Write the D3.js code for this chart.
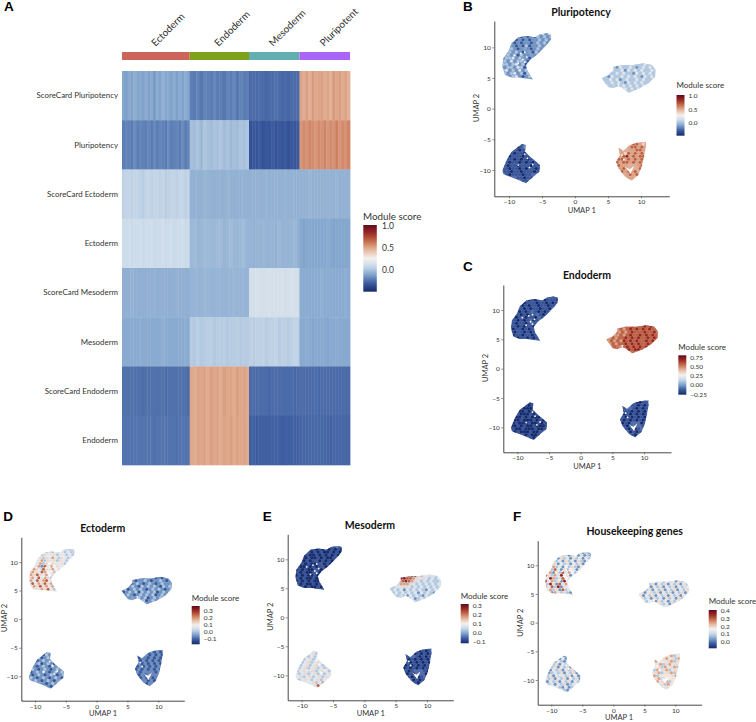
<!DOCTYPE html>
<html><head><meta charset="utf-8">
<script src="https://cdn.jsdelivr.net/npm/d3@7"></script>
<style>html,body{margin:0;padding:0;background:#fff}svg{display:block}text{font-family:Lato,"Noto Sans",sans-serif;fill:#333}</style>
</head><body><svg id="c" width="756" height="722"></svg>
<script>
// ---------- heatmap data ----------
const heatRows = ["ScoreCard Pluripotency","Pluripotency","ScoreCard Ectoderm","Ectoderm","ScoreCard Mesoderm","Mesoderm","ScoreCard Endoderm","Endoderm"];
const heatGroups = ["Ectoderm","Endoderm","Mesoderm","Pluripotent"];
const heatGroupShare = [67.7,59.3,50.5,50.5];
const heatGroupColors = ["#cd6459","#7da11a","#62aeb0","#a963f5"];
const heatValues = [
  [-0.097,-0.203,-0.256,0.50],
  [-0.196,-0.022,-0.309,0.567],
  [0.05,-0.06,-0.06,-0.06],
  [0.085,-0.037,-0.052,-0.097],
  [-0.067,-0.052,0.115,-0.082],
  [-0.082,0.02,0.035,-0.09],
  [-0.241,0.50,-0.256,-0.256],
  [-0.233,0.50,-0.286,-0.271]];
// streaks read across each heatmap cell, 5 = the cell's mean, one step = heatStreakStep
const heatStreakStep = 0.011;
const heatStreaks = [
 ["536475647362748564736475","546365474536473645","5556545565454555","64738567463857463"],
 ["465374654637465374563746","657486576857465768","3546354635463546","36475364736483647"],
 ["566566546656656456656656","555565555556555555","5555565555565555","55565555555565555"],
 ["667566756675667567566756","564565556645655564","5455655546555564","54555555565455555"],
 ["555655555556555555565555","555565555555565555","6576567656756765","55555556555555565"],
 ["555555655555556555555565","657566756675667566","6566756675665676","55654555545565555"],
 ["555555545555555455555554","546564756475647564","5555554555555545","55555545555555555"],
 ["555455555554555555545555","546564756465746564","5545555555455555","55555555554555555"]];
// ---------- UMAP data: cluster outlines read in UMAP 1 / UMAP 2 units ----------
const outlineA = [[-3.63,12.13],[-3.63,11.3],[-4.29,10.39],[-5.05,9.57],[-5.8,8.76],[-6.81,7.94],[-7.42,7.13],[-7.22,6.2],[-6.9,5.66],[-6.41,4.79],[-7.57,4.9],[-8.58,5.11],[-9.59,5.06],[-10.6,5.5],[-11,6.85],[-10.85,8.2],[-10.1,9.3],[-9.59,10.66],[-8.58,11.64],[-7.32,11.86],[-6.05,11.64],[-5.3,12.13],[-4.29,12.29]];
const outlineB = [[4.04,4.95],[5.05,5.5],[5.81,6.31],[5.81,6.85],[7.08,7.13],[8.84,7.13],[10.36,7.4],[11.62,7.13],[12.23,6.31],[12.13,5.22],[11.12,4.14],[9.85,3.32],[8.09,2.61],[7.08,3.48],[6.57,3.7],[5.81,3.32],[5.05,3.48],[4.55,4.24]];
const outlineC = [[-8.08,-5.76],[-7.47,-5.92],[-7.57,-7.01],[-6.81,-7.83],[-5.3,-9.19],[-5.4,-10.27],[-6.31,-11.09],[-7.42,-12.18],[-8.58,-11.63],[-10.85,-10.66],[-11,-10.11],[-10.35,-8.37],[-9.59,-7.01],[-8.58,-6.2]];
const outlineD = [[6.57,-6.36],[7.33,-6.85],[8.34,-5.92],[9.35,-5.54],[10.71,-5.38],[10.71,-6.2],[10.46,-7.83],[10.1,-9.46],[9.6,-10.82],[8.59,-11.74],[7.58,-11.09],[6.57,-9.73],[6.22,-8.64],[6.82,-7.55]];
const heartGap = [[7.58,-9.46],[8.33,-9.89],[8.94,-9.35],[8.43,-10.67]];
const clusterOutlines = [outlineA,outlineB,outlineC,outlineD];
const clusterHoles = [null,null,null,heartGap];
// white specks (empty spots between cells) seen in every panel
const emptySpotX = [-8.2,-7.6,-7.3,-7.9,-8.6,-9.2,-7.6,-7.2,-6.4,-6.9,-7.6,-8.6,7.1,7.4,6.6,-6.6];
const emptySpotY = [9,9.2,8.4,8,7.4,8.7,7.6,-8.1,-9.1,-9.6,-7.4,-9.2,-7.6,-8.3,3.9,6.6];
// ---------- hand-read tones on a 0.5-unit grid of UMAP 1 / UMAP 2 ----------
// digit = tone of the patch, 0 = bottom of the panel's colour bar, 9 = top, "." = skip
const gridStep = 0.5;
const gridOrigin = [[-11,12],[4,7],[-11,-6],[6,-5.5]];
const baseTones = [[2,3,1,6],[1,7,0.5,1],[4.5,2,2,1.5],[0.5,3.3,3.9,1],[4.5,4.2,3.8,4.8]];
const tonesPluripotency = [
 ["...........3424","....21212132323","....12121223232","..212122123232","..22121312232","..3212.21232",".2323212.1321","33231322.2.","233423.21","324233.12","33234231","23324312","34232423","323423132",".32342123","........23"],
 ["......3334333433","...3243343234343","...4334243434334","..334343324343434","33243343434324343","33434234334343343",".334343243434333","..3.3343434343","......343434","........33"],
 [".....212","...10121","..111011","..101101",".101110112",".110101011","110110101011","101101110110","110110101101","11011011101",".10111011","....11011","......11"],
 ["......6675","....677657",".67.677676",".6..667767",".66576767","767867677","677676767","767767676",".766...67",".676...76","..76767","...6767","....66"]];
const tonesEndoderm = [
 ["...........1111","....10101101110","....01110110101","..101011011011","..11010110110","..0101.10101",".1101011.1011","10110110.1.","110101.01","101101.10","11010110","01101011","10110101","011011010",".10110101","........10"],
 ["......7787778787","...6767878787877","...7676787778778","..667678778787877","66767787878778787","67676878787787877",".676778787877878","..7.6787878787","......787887","........77"],
 [".....101","...01010","..010001","..001010",".010001011",".001010001","100100010100","010001001010","001010010001","10010001001",".01000100","....01001","......10"],
 ["......1113","....100113",".01.110101",".1..101011",".01101010","101010101","010101010","101010101",".010...01",".101...10","..10101","...0101","....10"]];
const tonesEctoderm = [
 ["...........3333","....43534343433","....35445344343","..453546435434","..54635453543","..4635.54453",".5462746.5443","46537546.5.","565476.43","657546.54","56474653","64756746","57465756","465756463",".65465743","........43"],
 ["......2122212122","...2122321223212","...1232123212322","..232132323213232","23123232123232123","12323132323123232",".232123232312321","..2.2323123232","......231232","........22"],
 [".....232","...21323","..231232","..123223",".323123212",".212321323","232123212321","123232123232","212321232123","32123212321",".23212321","....21232","......21"],
 ["......1212","....121212",".21.212121",".1..121212",".21212121","121212121","212121212","121212121",".212...12",".121...21","..12121","...2121","....12"]];
const tonesMesoderm = [
 ["...........1121","....01010101010","....10101001010","..010010101010","..10100101001","..0101.01010",".0101001.0101","10010101.0.","010100.10","101001.01","01010010","10100101","01010100","101001010",".01010010","........10"],
 ["......7885644543","...8877654543434","...6787654343433","..566654343434343","33445543434343434","34342434343243432",".343434342434323","..3.3243432432","......342343","........33"],
 [".....346","...34534","..453435","..345344",".534534543",".345345435","534534534354","345435345436","434534534345","45345345354",".34543453","....45346","......57"],
 ["......1103","....101013",".01.010101",".1..101010",".10101010","010101010","101010101","010101010",".101...10",".010...01","..10101","...0101","....10"]];
const tonesHousekeeping = [
 ["...........3232","....43523425232","....25342534243","..534253425324","..35243524352","..6342.35324",".5374253.4253","46253746.3.","753648.52","486357.43","74635284","38527463","64738254","463527342",".52643532","........53"],
 ["......3425342534","...3524352435243","...5243524352435","..352435243524352","35245352435243524","42435243524352435",".534253425342534","..3.4253425342","......453425","........42"],
 [".....423","...32423","..524325","..352434",".435243523",".243524352","523435243524","352434352423","435243524352","24352435243",".34243523","....32423","......32"],
 ["......5634","....456345",".54.564536",".6..456356",".54635645","645364563","536456345","456345635",".634...56",".563...45","..64563","...5364","....45"]];
const clusterTones = [tonesPluripotency,tonesEndoderm,tonesEctoderm,tonesMesoderm,tonesHousekeeping];
const panelTitles = ["Pluripotency","Endoderm","Ectoderm","Mesoderm","Housekeeping genes"];
const panelLetters = ["B","C","D","E","F"];
const axisTicks = [-10,-5,0,5,10];
const yAxisTicks = [-10,-5,0,5,10];
const legendTicks = [[1.0,0.5,0.0],[0.75,0.5,0.25,0,-0.25],[0.3,0.2,0.1,0,-0.1],[0.3,0.2,0.1,0,-0.1],[0.4,0.3,0.2,0.1,0]];
const legendDomains = [[-0.48,1.03],[-0.27,0.81],[-0.18,0.36],[-0.12,0.31],[-0.09,0.41]];
const legendFormat = [".1f",".2f",".1f",".1f",".1f"];
const heatDomain = [-0.49,1.02];
const colorStops = ["#16296b","#3b5a9e","#7ea2cb","#c9d9e9","#f3f1ee","#e6b9a0","#c6714f","#9c2b25","#5e0a1c"];
// ---------- layout ----------
const panelBoxes = [
 {l:494.3,r:669.3,t:21,b:196.3,x10:[509,641],y10:[170,47.3],title:[581,12],xt:[581.7,210],yt:[476,108],leg:[676.5,85.5,95,135.7],letter:[463,6.5]},
 {l:503.3,r:671,t:285,b:452.3,x10:[517.3,644],y10:[427.3,310],title:[587,275.7],xt:[587.3,466],yt:[485.7,368],leg:[678.3,346.7,355.3,394.7],letter:[463,266]},
 {l:21.3,r:184.3,t:537.3,b:700.7,x10:[35,158.3],y10:[676.3,562],title:[102.7,528.3],xt:[103,713.7],yt:[4,618],leg:[191.7,597.7,606,644.3],letter:[3.3,515.7]},
 {l:287.7,r:453.3,t:534.3,b:700.3,x10:[301.7,427],y10:[675.3,559.3],title:[370,525],xt:[370.7,713],yt:[270,616.7],leg:[460.7,596,604,643.3],letter:[262.7,515.7]},
 {l:537.7,r:701.7,t:540.7,b:704.7,x10:[551.3,675.3],y10:[680,565.3],title:[634.7,531.7],xt:[619,717],yt:[520,622.7],leg:[708.7,601.3,610,648.3],letter:[513,515.7]}];
const svg = d3.select("#c");
const defs = svg.append("defs");
const ramp = d3.piecewise(d3.interpolateRgb, colorStops);
const FONT = 'Lato,"Noto Sans",sans-serif';
function letter(t,x,y){svg.append("text").attr("x",x).attr("y",y).attr("dy","0.36em").style("font-family",'"Liberation Sans",Arial,sans-serif').style("font-weight",700).style("font-size","13.5px").style("fill","#000").text(t);}
function legend(id,x,titleY,top,bottom,domain,ticks,fmt,labelX){
  svg.append("text").attr("x",x).attr("y",titleY).attr("dy","0.36em").style("font-size","8px").text("Module score");
  const g=defs.append("linearGradient").attr("id",id).attr("x1",0).attr("x2",0).attr("y1",1).attr("y2",0);
  d3.range(0,1.001,0.05).forEach(t=>g.append("stop").attr("offset",t).attr("stop-color",ramp(t)));
  const w=8;
  svg.append("rect").attr("x",x).attr("y",top).attr("width",w).attr("height",bottom-top).attr("fill",`url(#${id})`);
  const s=d3.scaleLinear().domain(domain).range([bottom,top]);
  const ax=svg.append("g").attr("transform",`translate(${x+w},0)`).call(d3.axisRight(s).tickValues(ticks).tickSize(0).tickPadding(labelX||4).tickFormat(d3.format(fmt)));
  ax.select(".domain").remove();
  ax.selectAll("text").style("font-size","6.5px").style("fill","#333");
}
// ---------- panel A ----------
letter("A",4,6.5);
const groupX=d3.scaleLinear().domain([0,d3.sum(heatGroupShare)]).range([122,350]);
const groupEdges=d3.cumsum([0,...heatGroupShare]);
const rowBand=d3.scaleBand().domain(heatRows).range([71,465]);
const heatColor=d3.scaleSequential(ramp).domain(heatDomain);
heatGroups.forEach((g,i)=>{
  const x0=groupX(groupEdges[i]),x1=groupX(groupEdges[i+1]);
  svg.append("rect").attr("x",x0).attr("y",52).attr("width",x1-x0).attr("height",8).attr("fill",heatGroupColors[i]);
  svg.append("text").attr("transform",`translate(${[155.5,218.5,273,324][i]},47) rotate(-45)`).style("font-size","10px").text(g);
  heatRows.forEach((r,j)=>{
    const chars=heatStreaks[j][i].split("");
    const strip=d3.scaleBand().domain(d3.range(chars.length)).range([x0,x1]);
    chars.forEach((ch,n)=>svg.append("rect").attr("x",strip(n)).attr("y",rowBand(r)).attr("width",strip.bandwidth()+0.4).attr("height",rowBand.bandwidth()+0.3).attr("fill",heatColor(heatValues[j][i]+(+ch-5)*heatStreakStep)));
  });
});
heatRows.forEach(r=>svg.append("text").attr("x",118).attr("y",rowBand(r)+rowBand.bandwidth()/2).attr("dy","0.34em").attr("text-anchor","end").style("font-size","7.9px").text(r));
svg.append("text").attr("x",363).attr("y",216).attr("dy","0.36em").style("font-size","9.8px").text("Module score");
(function(){
  const top=225,bottom=291.7,s=d3.scaleLinear().domain(heatDomain).range([bottom,top]);
  const g=defs.append("linearGradient").attr("id","legA").attr("x1",0).attr("x2",0).attr("y1",1).attr("y2",0);
  d3.range(0,1.001,0.05).forEach(t=>g.append("stop").attr("offset",t).attr("stop-color",ramp(t)));
  svg.append("rect").attr("x",363.3).attr("y",top).attr("width",13.5).attr("height",bottom-top).attr("fill","url(#legA)");
  const ax=svg.append("g").attr("transform","translate(377,0)").call(d3.axisRight(s).tickValues([1,0.5,0]).tickSize(0).tickPadding(5).tickFormat(d3.format(".1f")));
  ax.select(".domain").remove();ax.selectAll("text").style("font-size","8.5px").style("fill","#333");
})();
// ---------- UMAP panels ----------
panelBoxes.forEach((p,k)=>{
  letter(panelLetters[k],p.letter[0],p.letter[1]);
  const bx=d3.scaleLinear().domain([-10,10]).range(p.x10), by=d3.scaleLinear().domain([-10,10]).range(p.y10);
  const x=d3.scaleLinear().domain([bx.invert(p.l),bx.invert(p.r)]).range([p.l,p.r]);
  const y=d3.scaleLinear().domain([by.invert(p.b),by.invert(p.t)]).range([p.b,p.t]);
  const col=d3.scaleSequential(ramp).domain([0,9]);
  const line=d3.line().x(d=>x(d[0])).y(d=>y(d[1]));
  clusterTones[k].forEach((rows,c)=>{
    const id=`clip${k}_${c}`;
    const shape=line(clusterOutlines[c])+"Z"+(clusterHoles[c]?line(clusterHoles[c])+"Z":"");
    defs.append("clipPath").attr("id",id).append("path").attr("clip-rule","evenodd").attr("d",shape);
    svg.append("path").attr("d",shape).attr("fill-rule","evenodd").attr("fill",col(baseTones[k][c])).attr("fill-opacity",0.85);
    const g=svg.append("g").attr("clip-path",`url(#${id})`);
    rows.forEach((row,ri)=>{
      row.split("").forEach((ch,ci)=>{
        if(ch===".")return;
        const ux=gridOrigin[c][0]+(ci+0.5+(ri%2?0.25:-0.25))*gridStep, uy=gridOrigin[c][1]-ri*gridStep+gridStep/2;
        g.append("circle").attr("cx",x(ux)).attr("cy",y(uy)).attr("r",1.5).attr("fill",col(+ch));
      });
    });
  });
  emptySpotX.forEach((ux,i)=>svg.append("circle").attr("cx",x(ux)).attr("cy",y(emptySpotY[i])).attr("r",0.9).attr("fill","#fff"));
  const ax=svg.append("g").attr("transform",`translate(0,${p.b})`).call(d3.axisBottom(x).tickValues(axisTicks).tickSize(2).tickPadding(1.5).tickSizeOuter(0));
  const ay=svg.append("g").attr("transform",`translate(${p.l},0)`).call(d3.axisLeft(y).tickValues(yAxisTicks).tickSize(2).tickPadding(1.5).tickSizeOuter(0));
  [ax,ay].forEach(a=>{a.select(".domain").attr("stroke","#333").attr("stroke-width",0.9);a.selectAll(".tick line").attr("stroke","#444").attr("stroke-width",0.6);a.selectAll("text").style("font-size","6.5px").style("fill","#333").style("font-family",FONT);});
  svg.append("text").attr("x",p.title[0]).attr("y",p.title[1]).attr("dy","0.36em").attr("text-anchor","middle").style("font-size","10.5px").style("font-weight",700).style("fill","#111").text(panelTitles[k]);
  svg.append("text").attr("x",p.xt[0]).attr("y",p.xt[1]).attr("dy","0.36em").attr("text-anchor","middle").style("font-size","7.5px").text("UMAP 1");
  svg.append("text").attr("transform",`translate(${p.yt[0]},${p.yt[1]}) rotate(-90)`).attr("dy","0.36em").attr("text-anchor","middle").style("font-size","7.5px").text("UMAP 2");
  legend("leg"+k,p.leg[0],p.leg[1],p.leg[2],p.leg[3],legendDomains[k],legendTicks[k],legendFormat[k],4);
});
</script></body></html>
